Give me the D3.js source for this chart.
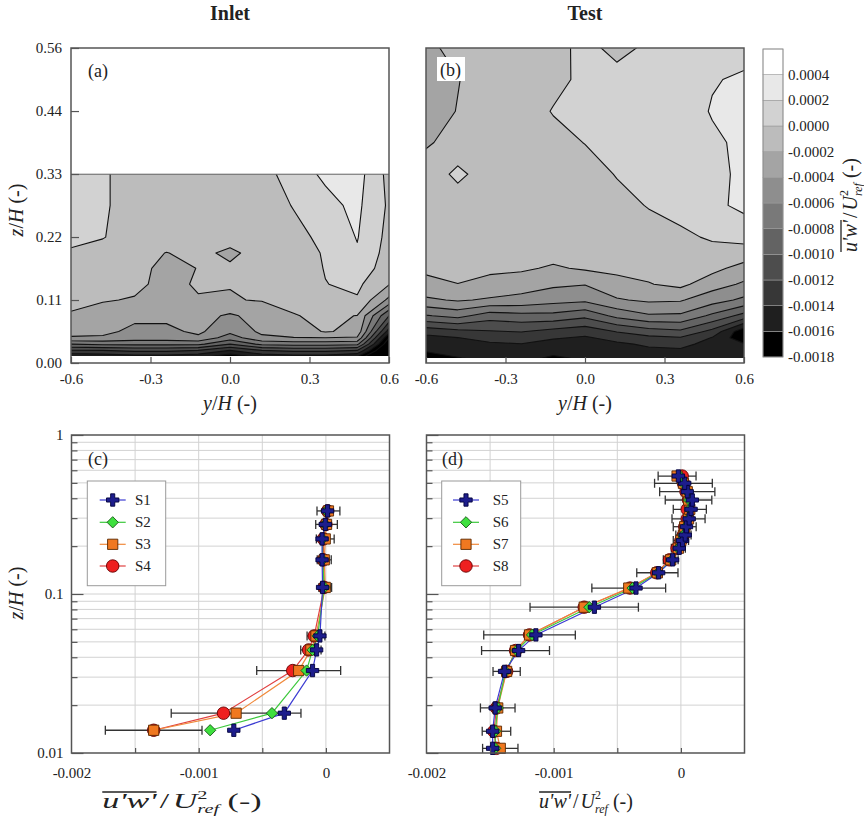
<!DOCTYPE html>
<html>
<head>
<meta charset="utf-8">
<script src="https://cdn.jsdelivr.net/npm/d3@7"></script>
<style>
  body { margin: 0; background: #fff; }
  svg { display: block; }
</style>
</head>
<body>
<svg id="fig" width="864" height="819"></svg>
<script>
// ---------- contour maps (u'w'/Uref^2 in units of 1e-4) ----------
var yCols = [-0.6, -0.48, -0.36, -0.24, -0.12, 0, 0.12, 0.24, 0.36, 0.48, 0.6];

// inlet plane, rows from top to bottom
var zRowsInlet = [0.333, 0.278, 0.222, 0.194, 0.167, 0.139, 0.111, 0.0833, 0.0556, 0.0444, 0.0333, 0.0222, 0.0123];
var uwInlet = [
  [1.0, 0.3, -1.0, -1.0, -1.0, -1.0, -1.0, 1.2, 2.3, 2.8, -0.6],
  [1.0, 0.3, -1.0, -1.0, -1.0, -1.0, -1.0, 0.1, 1.5, 2.4, -0.3],
  [0.6, 0.1, -1.0, -1.0, -1.0, -1.2, -1.0, -0.6, 0.5, 2.1, -0.6],
  [-0.3, -0.8, -1.2, -2.05, -1.5, -2.4, -1.2, -1.0, 0.2, 1.8, -0.8],
  [-0.8, -1.0, -1.3, -2.6, -1.95, -1.7, -1.3, -1.2, 0.1, 1.2, -1.0],
  [-1.2, -1.5, -1.7, -2.4, -1.85, -1.95, -1.6, -1.2, -0.05, 0.4, -1.9],
  [-1.5, -1.9, -2.1, -2.2, -2.1, -2.1, -1.9, -1.5, -1.2, -0.2, -4.5],
  [-2.2, -2.6, -3.5, -3.5, -3.3, -4.3, -3.2, -2.1, -1.6, -2.05, -10],
  [-3.0, -3.5, -4.5, -4.5, -3.6, -5.5, -3.6, -3.3, -1.8, -2.6, -15],
  [-4.3, -4.3, -5.0, -5.0, -4.4, -7.0, -4.4, -4.05, -4.05, -4.2, -18],
  [-8.0, -7.5, -7.5, -7.5, -7.5, -10, -7.5, -7.2, -7.2, -7.5, -20],
  [-12.2, -12, -11.5, -11.5, -12, -14, -12, -11.5, -11.5, -12, -22],
  [-15.5, -15, -14.5, -14.5, -15, -17, -15, -14.5, -14.5, -15.5, -25]
];

// test plane, rows from top to bottom
var zRowsTest = [0.556, 0.5, 0.444, 0.389, 0.333, 0.278, 0.222, 0.194, 0.167, 0.139, 0.111, 0.0833, 0.0556, 0.0444, 0.0333, 0.0222, 0.0088];
var uwTest = [
  [-2.3, -1.6, -1.2, -1.0, -0.6, 0.5, -0.5, 0.3, 0.8, 1.4, 1.5],
  [-2.6, -2.05, -1.4, -1.0, -0.5, 0.4, 0.6, 0.8, 1.0, 1.9, 2.2],
  [-2.6, -1.95, -1.3, -0.9, 0.1, 0.8, 1.0, 1.1, 1.3, 2.1, 2.6],
  [-2.1, -1.7, -1.4, -1.1, -0.6, 0.05, 0.6, 0.9, 1.1, 1.75, 2.3],
  [-1.6, 0.6, -1.3, -1.2, -1.0, -0.8, 0.1, 0.7, 1.0, 1.6, 2.3],
  [-1.4, -1.5, -1.3, -1.2, -1.1, -1.0, -0.6, 0.1, 0.9, 1.5, 2.5],
  [-1.3, -1.4, -1.3, -1.2, -1.1, -1.0, -0.9, -0.8, -0.5, 0.3, 0.6],
  [-1.3, -1.3, -1.2, -1.2, -1.3, -1.5, -1.0, -1.0, -1.0, -0.8, -0.8],
  [-1.6, -1.6, -1.6, -1.7, -2.25, -1.75, -1.5, -1.4, -1.1, -1.4, -2.77],
  [-2.57, -2.02, -2.6, -3.1, -3.65, -3.92, -2.7, -2.1, -1.5, -3.16, -4.28],
  [-4.33, -3.8, -4.23, -4.6, -5.27, -5.6, -4.19, -3.67, -3.82, -5.15, -6.43],
  [-8.16, -7.34, -9.06, -8.66, -8.62, -9.49, -7.45, -6.26, -6.34, -8.42, -10.72],
  [-13.23, -12.6, -12.14, -11.9, -12.64, -13.22, -11.9, -10.9, -10.4, -12.59, -17.5],
  [-14.6, -14.04, -13.26, -13.0, -13.76, -14.27, -13.25, -12.48, -12.17, -14.1, -17.5],
  [-15.3, -14.7, -14.3, -14.06, -14.9, -14.92, -14.4, -13.65, -13.34, -14.8, -15.8],
  [-15.9, -15.2, -14.9, -14.98, -15.6, -15.4, -14.9, -14.4, -14.3, -15.0, -15.3],
  [-16.5, -16.1, -15.3, -15.6, -16.2, -15.8, -15.2, -14.8, -14.8, -15.3, -15.4]
];

// contour levels (lower bound of each band, 1e-4) and colour bar labels
var levels = [-18, -16, -14, -12, -10, -8, -6, -4, -2, 0, 2, 4];
var levelLabels = ['-0.0018', '-0.0016', '-0.0014', '-0.0012', '-0.0010', '-0.0008', '-0.0006', '-0.0004', '-0.0002', '0.0000', '0.0002', '0.0004'];
var bandGrey = ['#000000', '#1f1f1f', '#373737', '#4d4d4d', '#636363', '#797979', '#8e8e8e', '#a4a4a4', '#bcbcbc', '#d2d2d2', '#e8e8e8', '#ffffff'];

var yTickVals = [-0.6, -0.3, 0, 0.3, 0.6];
var yTickLabels = ['-0.6', '-0.3', '0.0', '0.3', '0.6'];
var zTickVals = [0, 0.1111, 0.2222, 0.3333, 0.4444, 0.5556];
var zTickLabels = ['0.00', '0.11', '0.22', '0.33', '0.44', '0.56'];

// ---------- vertical profiles ----------
var zInlet = [0.0139, 0.0178, 0.033, 0.0445, 0.0545, 0.11, 0.164, 0.222, 0.274, 0.333];
var s1 = [-0.000724, -0.000327, -0.000105, -0.000073, -0.000047, -0.000026, -0.00003, -0.00003, -0.000005, 0.000013];
var s2 = [-0.00091, -0.000424, -0.000152, -0.000105, -0.000065, -0.000013, -0.000026, -0.000026, -0.000005, 0.000005];
var s3 = [-0.001354, -0.000706, -0.000214, -0.000118, -0.000078, -0.000005, -0.000013, -0.000005, 0.000005, 0.00002];
var s4 = [-0.001354, -0.000805, -0.000261, -0.000136, -0.000092, -0.000013, -0.00002, -0.00002, 0.0, 0.000013];
var errInlet = [0.00038, 0.00051, 0.00033, 0.00008, 0.00007, 0.00005, 0.000055, 0.00007, 0.000085, 0.00009];

var zTest = [0.0107, 0.0137, 0.0192, 0.0326, 0.0441, 0.0553, 0.0826, 0.109, 0.136, 0.164, 0.194, 0.217, 0.235, 0.265, 0.297, 0.341, 0.39, 0.44, 0.497, 0.552];
var s5 = [-0.00148, -0.00148, -0.00146, -0.001386, -0.001276, -0.00114, -0.00068, -0.000353, -0.000175, -0.000065, -0.000013, 0.000013, 0.000034, 0.000044, 0.000065, 0.00008, 0.00009, 0.00005, 0.00003, -0.00002];
var s6 = [-0.00146, -0.00146, -0.00144, -0.00138, -0.00129, -0.00117, -0.00072, -0.00038, -0.00018, -0.00007, -0.00002, 0.000005, 0.00002, 0.00004, 0.00006, 0.00007, 0.000065, 0.00005, 0.00002, -0.00001];
var s7 = [-0.00142, -0.00145, -0.00144, -0.00137, -0.0013, -0.00119, -0.00076, -0.00041, -0.000185, -0.00008, -0.00002, 0.0, 0.00002, 0.00003, 0.00006, 0.00007, 0.00006, 0.00005, 0.00002, -0.00003];
var s8 = [-0.00145, -0.00147, -0.00145, -0.00137, -0.0013, -0.00119, -0.00076, -0.0004, -0.00019, -0.00009, -0.00003, 0.0, 0.00002, 0.00003, 0.00005, 0.00005, 0.00006, 0.00004, 0.00002, 0.00001];
var errTest = [0.000139, 0.000112, 0.000136, 0.000107, 0.000267, 0.00036, 0.000426, 0.00029, 0.000162, 0.000058, 0.000055, 0.00006, 0.00006, 0.00009, 0.00013, 0.00013, 0.000183, 0.000217, 0.000227, 0.000149];

var namesInlet = ['S1', 'S2', 'S3', 'S4'];
var namesTest = ['S5', 'S6', 'S7', 'S8'];
var uwTickVals = [-0.002, -0.001, 0];
var uwTickLabels = ['-0.002', '-0.001', '0'];
var uwMinorVals = [-0.0015, -0.001, -0.0005, 0];
var logMajor = [0.01, 0.1, 1];
var logLabels = ['0.01', '0.1', '1'];

var markStyles = [
  {type: d3.symbolCross, size: 85, rot: 0, fill: '#1d1d8c', stroke: '#00003c', line: '#3c3cd2'},
  {type: d3.symbolSquare, size: 64, rot: 45, fill: '#3ee03e', stroke: '#1b5e1b', line: '#3cc83c'},
  {type: d3.symbolSquare, size: 105, rot: 0, fill: '#f07820', stroke: '#5a2800', line: '#f08a3c'},
  {type: d3.symbolCircle, size: 122, rot: 0, fill: '#ee2020', stroke: '#640000', line: '#e04040'}
];

var serif = '"Liberation Serif", "Times New Roman", serif';
var svg = d3.select('#fig').attr('font-family', serif);
var frameCol = '#555';

// ---------- scales ----------
var xInletMap = d3.scaleLinear().domain([-0.6, 0.6]).range([71, 389]);
var xTestMap = d3.scaleLinear().domain([-0.6, 0.6]).range([426, 744]);
var zMap = d3.scaleLinear().domain([0, 0.5556]).range([363, 48]);
var xInletProf = d3.scaleLinear().domain([-0.002, 0.0005]).range([71.5, 389.5]);
var xTestProf = d3.scaleLinear().domain([-0.002, 0.0005]).range([426.5, 744.5]);
var zLog = d3.scaleLog().domain([0.01, 1]).range([753, 435]);

function drawMap(xs, rows, grid, clipId, zLo, zHi) {
  var nx = yCols.length, ny = rows.length;
  var flat = [].concat.apply([], grid);
  var gx = d3.scaleLinear().domain([0.5, nx - 0.5]).range([yCols[0], yCols[nx - 1]]);
  var gz = d3.scaleLinear().domain(rows.map(function(d, i) { return i + 0.5; })).range(rows);
  var proj = d3.geoTransform({point: function(px, py) {
    this.stream.point(xs(gx(px)), zMap(gz(py)));
  }});
  var path = d3.geoPath(proj);
  var conts = d3.contours().size([nx, ny]).thresholds(levels)(flat);

  svg.append('clipPath').attr('id', clipId).append('rect')
    .attr('x', xs(-0.6)).attr('y', zMap(zHi))
    .attr('width', xs(0.6) - xs(-0.6)).attr('height', zMap(zLo) - zMap(zHi));
  var g = svg.append('g').attr('clip-path', 'url(#' + clipId + ')');
  g.append('rect')
    .attr('x', xs(-0.6)).attr('y', zMap(zHi))
    .attr('width', xs(0.6) - xs(-0.6)).attr('height', zMap(zLo) - zMap(zHi))
    .attr('fill', '#000');
  g.selectAll('path.band').data(conts).enter().append('path')
    .attr('class', 'band')
    .attr('d', path)
    .attr('fill', function(d, i) { return bandGrey[i]; })
    .attr('stroke', 'none');
  g.selectAll('path.iso').data(conts).enter().append('path')
    .attr('class', 'iso')
    .attr('d', path)
    .attr('fill', 'none')
    .attr('stroke', '#111')
    .attr('stroke-width', 1.1)
    .attr('stroke-linejoin', 'round');
  return g;
}

function styleAxis(g) {
  g.select('.domain').remove();
  g.attr('font-family', serif).attr('font-size', 15).attr('color', '#333');
  g.selectAll('line').attr('stroke', frameCol).attr('stroke-width', 1.2);
  g.selectAll('text').attr('fill', '#222');
}

function frame(x0, y0, x1, y1) {
  svg.append('rect').attr('x', x0).attr('y', y0).attr('width', x1 - x0).attr('height', y1 - y0)
    .attr('fill', 'none').attr('stroke', frameCol).attr('stroke-width', 1.5);
}

// text helpers
function axisTitle(x, y, rot, parts) {
  var t = svg.append('text').attr('font-size', 20).attr('fill', '#222')
    .attr('text-anchor', 'middle')
    .attr('transform', 'translate(' + x + ',' + y + ')' + (rot ? ' rotate(' + rot + ')' : ''));
  parts.forEach(function(p) {
    t.append('tspan').attr('font-style', p[1] ? 'italic' : 'normal').text(p[0]);
  });
}

function fluxLabel(cx, cy, rot, stretch) {
  var g = svg.append('g');
  var t = g.append('text').attr('font-size', 20).attr('fill', '#222');
  t.append('tspan').attr('font-style', 'italic').text("u'w'");
  t.append('tspan').attr('dx', 2).text('/');
  t.append('tspan').attr('dx', 2).attr('font-style', 'italic').text('U');
  t.append('tspan').attr('font-size', 12).attr('dy', -9).text('2');
  t.append('tspan').attr('font-size', 12).attr('dx', -6).attr('dy', 14).attr('font-style', 'italic').text('ref');
  t.append('tspan').attr('dy', -5).text('\u00a0(-)');
  var wOver = t.node().getSubStringLength(0, 4);
  g.append('line').attr('x1', 0).attr('x2', wOver).attr('y1', -16).attr('y2', -16)
    .attr('stroke', '#222').attr('stroke-width', 1.3);
  var bb = t.node().getBBox();
  var mid = bb.x + bb.width / 2;
  g.attr('transform', 'translate(' + cx + ',' + cy + ') rotate(' + rot + ') scale(' + stretch + ',1) translate(' + (-mid) + ',0)');
}

// ---------- titles ----------
svg.append('text').attr('x', 230).attr('y', 20).attr('text-anchor', 'middle')
  .attr('font-size', 20).attr('font-weight', 'bold').attr('fill', '#222').text('Inlet');
svg.append('text').attr('x', 585).attr('y', 20).attr('text-anchor', 'middle')
  .attr('font-size', 20).attr('font-weight', 'bold').attr('fill', '#222').text('Test');

// ---------- (a) and (b) maps ----------
drawMap(xInletMap, zRowsInlet, uwInlet, 'clipA', 0.0123, 0.333);
svg.append('line').attr('x1', 71).attr('x2', 389).attr('y1', zMap(0.333)).attr('y2', zMap(0.333))
  .attr('stroke', '#666').attr('stroke-width', 1);
drawMap(xTestMap, zRowsTest, uwTest, 'clipB', 0.0088, 0.5556);

var axA = svg.append('g').attr('transform', 'translate(0,363)')
  .call(d3.axisBottom(xInletMap).tickValues(yTickVals)
    .tickFormat(function(d, i) { return yTickLabels[i]; })
    .tickSizeInner(-6).tickSizeOuter(0).tickPadding(10));
styleAxis(axA);
var ayA = svg.append('g').attr('transform', 'translate(71,0)')
  .call(d3.axisLeft(zMap).tickValues(zTickVals)
    .tickFormat(function(d, i) { return zTickLabels[i]; })
    .tickSizeInner(-8).tickSizeOuter(0).tickPadding(9));
styleAxis(ayA);
var axB = svg.append('g').attr('transform', 'translate(0,363)')
  .call(d3.axisBottom(xTestMap).tickValues(yTickVals)
    .tickFormat(function(d, i) { return yTickLabels[i]; })
    .tickSizeInner(-6).tickSizeOuter(0).tickPadding(10));
styleAxis(axB);

frame(71, 48, 389, 363);
frame(426, 48, 744, 363);

svg.append('text').attr('x', 88).attr('y', 77).attr('font-size', 18).attr('fill', '#222').text('(a)');
svg.append('rect').attr('x', 437).attr('y', 57).attr('width', 28).attr('height', 24).attr('fill', '#fff');
svg.append('text').attr('x', 440).attr('y', 76).attr('font-size', 18).attr('fill', '#222').text('(b)');

axisTitle(230, 410, 0, [['y', true], ['/', false], ['H', true], [' (-)', false]]);
axisTitle(585, 410, 0, [['y', true], ['/', false], ['H', true], [' (-)', false]]);
axisTitle(23, 210, -90, [['z', true], ['/', false], ['H', true], [' (-)', false]]);

// ---------- colour bar ----------
var cb = d3.scaleLinear().domain([-18, 6]).range([357, 49]);
var cbg = svg.append('g');
cbg.selectAll('rect').data(levels).enter().append('rect')
  .attr('x', 763).attr('width', 20)
  .attr('y', function(d) { return cb(d + 2); })
  .attr('height', function(d) { return cb(d) - cb(d + 2); })
  .attr('fill', function(d, i) { return bandGrey[i]; })
  .attr('stroke', '#9a9a9a').attr('stroke-width', 0.6);
cbg.append('rect').attr('x', 763).attr('y', 49).attr('width', 20).attr('height', 308)
  .attr('fill', 'none').attr('stroke', '#8a8a8a').attr('stroke-width', 0.8);
cbg.selectAll('text').data(levels).enter().append('text')
  .attr('x', 788).attr('y', function(d) { return cb(d) + 5; })
  .attr('font-size', 15).attr('fill', '#222')
  .text(function(d, i) { return levelLabels[i]; });
fluxLabel(857, 205, -90, 1);

// ---------- (c) and (d) profiles ----------
function drawProfile(xs, zs, series, err, names, showY, leg) {
  var x0 = xs.range()[0], x1 = xs.range()[1];
  var g = svg.append('g');
  // grid
  g.selectAll('line.gh').data(zLog.ticks().filter(function(d) { return d > 0.0101 && d < 0.99; }))
    .enter().append('line').attr('class', 'gh')
    .attr('x1', x0).attr('x2', x1)
    .attr('y1', function(d) { return zLog(d); }).attr('y2', function(d) { return zLog(d); })
    .attr('stroke', '#d2d2d2').attr('stroke-width', 1);
  g.selectAll('line.gv').data(uwMinorVals).enter().append('line').attr('class', 'gv')
    .attr('x1', function(d) { return xs(d); }).attr('x2', function(d) { return xs(d); })
    .attr('y1', 435).attr('y2', 753)
    .attr('stroke', '#d2d2d2').attr('stroke-width', 1);

  // axes
  var ax = svg.append('g').attr('transform', 'translate(0,753)')
    .call(d3.axisBottom(xs).tickValues(uwMinorVals).tickFormat('')
      .tickSizeInner(-5).tickSizeOuter(0));
  styleAxis(ax);
  var axl = svg.append('g').attr('transform', 'translate(0,753)')
    .call(d3.axisBottom(xs).tickValues(uwTickVals)
      .tickFormat(function(d, i) { return uwTickLabels[i]; })
      .tickSize(0).tickPadding(14));
  styleAxis(axl);
  var ay = svg.append('g').attr('transform', 'translate(' + x0 + ',0)')
    .call(d3.axisLeft(zLog).tickValues(zLog.ticks())
      .tickFormat(function(d) {
        var k = logMajor.indexOf(+d.toPrecision(3));
        return (showY && k >= 0) ? logLabels[k] : '';
      })
      .tickSizeInner(-6).tickSizeOuter(0).tickPadding(8));
  styleAxis(ay);
  ay.selectAll('.tick line').attr('x2', function(d) {
    return logMajor.indexOf(+d.toPrecision(3)) >= 0 ? 12 : 6;
  });

  var line = d3.line()
    .x(function(d) { return xs(d[0]); })
    .y(function(d) { return zLog(d[1]); });

  var order = [3, 2, 1, 0];
  order.forEach(function(k) {
    var pts = series[k].map(function(v, i) { return [v, zs[i]]; });
    g.append('path').datum(pts).attr('d', line)
      .attr('fill', 'none').attr('stroke', markStyles[k].line).attr('stroke-width', 1.2);
  });

  // error bars (third series)
  var eb = g.append('g').attr('stroke', '#333').attr('stroke-width', 1.3);
  series[2].forEach(function(v, i) {
    var yy = zLog(zs[i]), a = xs(v - err[i]), b = xs(v + err[i]);
    eb.append('line').attr('x1', a).attr('x2', b).attr('y1', yy).attr('y2', yy);
    eb.append('line').attr('x1', a).attr('x2', a).attr('y1', yy - 4.5).attr('y2', yy + 4.5);
    eb.append('line').attr('x1', b).attr('x2', b).attr('y1', yy - 4.5).attr('y2', yy + 4.5);
  });

  order.forEach(function(k) {
    var st = markStyles[k];
    var sym = d3.symbol().type(st.type).size(st.size);
    g.selectAll(null).data(series[k]).enter().append('path')
      .attr('d', sym)
      .attr('transform', function(v, i) {
        return 'translate(' + xs(v) + ',' + zLog(zs[i]) + ') rotate(' + st.rot + ')';
      })
      .attr('fill', st.fill).attr('stroke', st.stroke).attr('stroke-width', 0.9);
  });

  // legend
  var lg = svg.append('g');
  lg.append('rect').attr('x', leg.x).attr('y', 481).attr('width', leg.w).attr('height', 104.7)
    .attr('fill', '#fff').attr('stroke', '#9a9a9a').attr('stroke-width', 1);
  var rowsY = [500, 522.3, 544.3, 566];
  names.forEach(function(n, k) {
    var st = markStyles[k];
    var yy = rowsY[k];
    lg.append('line').attr('x1', leg.sx - 13).attr('x2', leg.sx + 13).attr('y1', yy).attr('y2', yy)
      .attr('stroke', st.line).attr('stroke-width', 1.2);
    lg.append('path').attr('d', d3.symbol().type(st.type).size(st.size))
      .attr('transform', 'translate(' + leg.sx + ',' + yy + ') rotate(' + st.rot + ')')
      .attr('fill', st.fill).attr('stroke', st.stroke).attr('stroke-width', 0.9);
    lg.append('text').attr('x', leg.tx).attr('y', yy + 5).attr('font-size', 15)
      .attr('fill', '#222').text(n);
  });

  frame(x0, 435, x1, 753);
}

drawProfile(xInletProf, zInlet, [s1, s2, s3, s4], errInlet, namesInlet, true,
  {x: 87.3, w: 78.4, sx: 112.7, tx: 135});
drawProfile(xTestProf, zTest, [s5, s6, s7, s8], errTest, namesTest, false,
  {x: 441.7, w: 79, sx: 466, tx: 492.7});

svg.append('text').attr('x', 88).attr('y', 465).attr('font-size', 18).attr('fill', '#222').text('(c)');
svg.append('text').attr('x', 442).attr('y', 465).attr('font-size', 18).attr('fill', '#222').text('(d)');

axisTitle(23, 593, -90, [['z', true], ['/', false], ['H', true], [' (-)', false]]);
fluxLabel(182, 808, 0, 1.7);
fluxLabel(586, 808, 0, 1);
</script>
</body>
</html>
